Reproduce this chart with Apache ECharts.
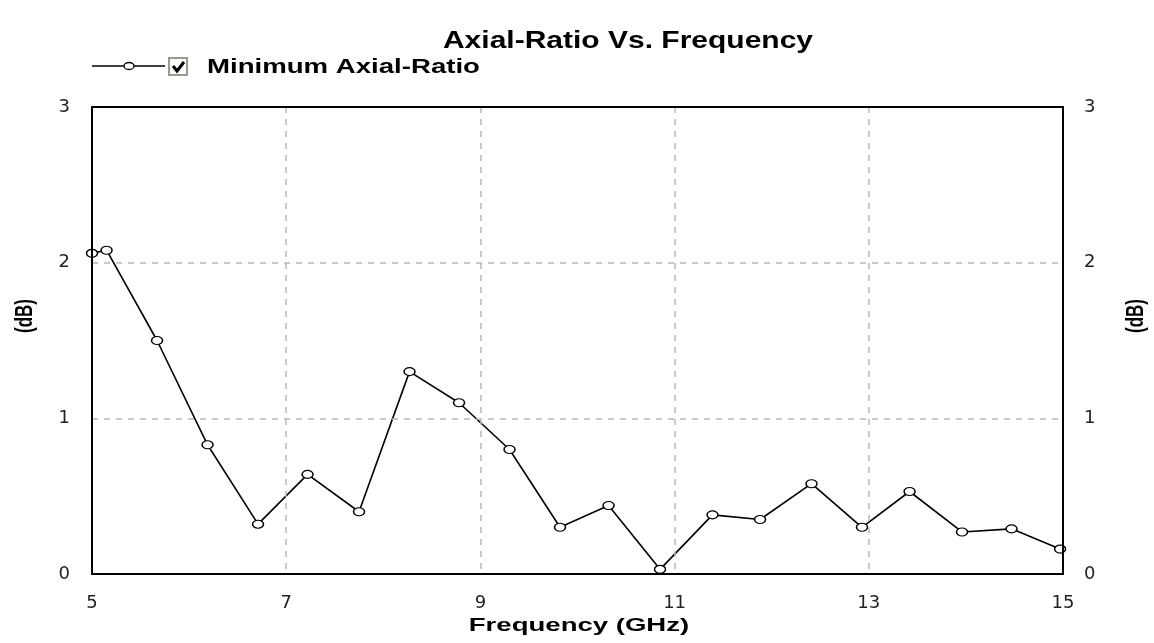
<!DOCTYPE html>
<html><head><meta charset="utf-8">
<script src="https://cdn.jsdelivr.net/npm/echarts@6/dist/echarts.min.js"></script>
<style>html,body{margin:0;padding:0;background:#fff}#c{width:1154px;height:643px}</style>
</head><body><div id="c"></div>
<script>
var titleText = "Axial-Ratio Vs. Frequency";
var seriesName = "Minimum Axial-Ratio";
var xAxisName = "Frequency (GHz)";
var yAxisName = "(dB)";
var xTicks = [5, 7, 9, 11, 13, 15];
var yTicks = [0, 1, 2, 3];
var freq = [5.0, 5.15, 5.67, 6.19, 6.71, 7.22, 7.75, 8.27, 8.78, 9.30, 9.82, 10.32, 10.85, 11.39, 11.88, 12.41, 12.93, 13.42, 13.96, 14.47, 14.97];
var axialRatio = [2.06, 2.08, 1.50, 0.83, 0.32, 0.64, 0.40, 1.30, 1.10, 0.80, 0.30, 0.44, 0.03, 0.38, 0.35, 0.58, 0.30, 0.53, 0.27, 0.29, 0.16];

var data = freq.map(function(f, i){ return [f, axialRatio[i]]; });
var font = "'Liberation Sans', Arial, sans-serif";
var tickFont = "'DejaVu Sans', 'Liberation Sans', sans-serif";
var chart = echarts.init(document.getElementById('c'));
var yAx = function(pos){
  return {
    type: 'value', position: pos, min: yTicks[0], max: yTicks[yTicks.length-1], interval: 1,
    axisLine: {show: true, lineStyle: {color: '#000', width: 2}},
    axisTick: {show: false},
    axisLabel: {fontFamily: tickFont, fontSize: 18, color: '#222', margin: pos === 'left' ? 22 : 21},
    splitLine: {show: pos === 'left', lineStyle: {color: '#b8b8b8', type: [6, 6], width: 1.5}},
    z: 10
  };
};
chart.setOption({
  backgroundColor: '#fff',
  animation: false,
  legend: {show: false},
  grid: {left: 92, right: 91, top: 107, bottom: 69, containLabel: false},
  xAxis: [{
    type: 'value', min: xTicks[0], max: xTicks[xTicks.length-1], interval: 2,
    axisLine: {show: true, onZero: false, lineStyle: {color: '#000', width: 2}},
    axisTick: {show: false},
    axisLabel: {fontFamily: tickFont, fontSize: 18, color: '#222', margin: 20},
    splitLine: {show: true, lineStyle: {color: '#b8b8b8', type: [6, 6], width: 1.5}},
    z: 10
  }, {
    type: 'value', position: 'top', min: xTicks[0], max: xTicks[xTicks.length-1], interval: 2,
    axisLine: {show: true, onZero: false, lineStyle: {color: '#000', width: 2}},
    axisTick: {show: false}, axisLabel: {show: false}, splitLine: {show: false}, z: 10
  }],
  yAxis: [yAx('left'), yAx('right')],
  series: [{
    name: seriesName, type: 'line', data: data, yAxisIndex: 0, xAxisIndex: 0,
    symbol: 'circle', symbolSize: [11, 8], showAllSymbol: true, clip: false,
    lineStyle: {color: '#000', width: 1.6},
    itemStyle: {color: '#fff', borderColor: '#000', borderWidth: 1.3},
    z: 5
  }],
  graphic: [
    {type: 'text', x: 628, y: 41, scaleX: 1.25, style: {text: titleText, fontFamily: font, fontWeight: 'bold', fontSize: 24, fill: '#000', align: 'center', verticalAlign: 'middle'}},
    {type: 'line', shape: {x1: 92, y1: 66, x2: 165, y2: 66}, style: {stroke: '#000', lineWidth: 1.5}},
    {type: 'ellipse', shape: {cx: 129, cy: 66, rx: 5, ry: 3.5}, style: {fill: '#fff', stroke: '#000', lineWidth: 1.3}},
    {type: 'rect', shape: {x: 169, y: 58, width: 18, height: 17}, style: {fill: '#fff', stroke: '#9a9a8a', lineWidth: 2}},
    {type: 'polyline', shape: {points: [[173, 66], [177, 71], [184, 62]]}, style: {stroke: '#000', lineWidth: 3, fill: null}},
    {type: 'text', x: 207, y: 67, scaleX: 1.38, style: {text: seriesName, fontFamily: font, fontWeight: 'bold', fontSize: 20, fill: '#000', align: 'left', verticalAlign: 'middle'}},
    {type: 'text', x: 579, y: 626, scaleX: 1.45, style: {text: xAxisName, fontFamily: font, fontWeight: 'bold', fontSize: 19, fill: '#000', align: 'center', verticalAlign: 'middle'}},
    {type: 'text', x: 25, y: 316, rotation: Math.PI/2, scaleY: 1.4, style: {text: yAxisName, fontFamily: font, fontWeight: 'bold', fontSize: 17, fill: '#000', align: 'center', verticalAlign: 'middle'}},
    {type: 'text', x: 1136, y: 316, rotation: Math.PI/2, scaleY: 1.4, style: {text: yAxisName, fontFamily: font, fontWeight: 'bold', fontSize: 17, fill: '#000', align: 'center', verticalAlign: 'middle'}}
  ]
});
</script></body></html>
